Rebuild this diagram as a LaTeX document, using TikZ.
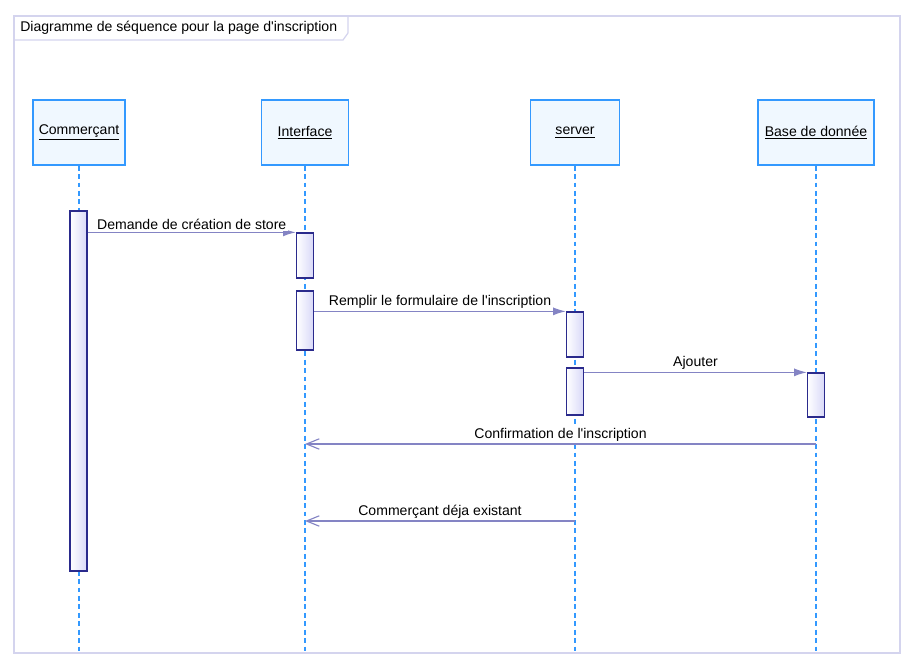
\documentclass[tikz,border=0pt]{standalone}
\usepackage{fontspec}
\setmainfont{Liberation Sans}
\usetikzlibrary{arrows.meta}

\definecolor{lifeblue}{HTML}{3399FF}
\definecolor{headfill}{HTML}{F0F8FF}
\definecolor{actline}{HTML}{2A2A8C}
\definecolor{actfill}{HTML}{D8D8F8}
\definecolor{msgcol}{HTML}{8484C4}
\definecolor{framecol}{HTML}{D4D4EE}

\tikzset{
  head/.style={draw=lifeblue, fill=headfill, line width=0.9pt, minimum height=1.625cm, font=\fontsize{10}{12}\selectfont},
  lifeline/.style={draw=lifeblue, line width=1pt, dash pattern=on 3.5pt off 2.5pt},
  activation/.style={draw=actline, line width=0.9pt, left color=white, right color=actfill, minimum width=0.425cm, inner sep=0pt},
  callmsg/.style={draw=msgcol, line width=0.8pt, -{Latex[length=3.2mm,width=2mm]}},
  backmsg/.style={draw=msgcol, line width=0.8pt, -{Straight Barb[length=3.2mm,width=2.6mm]}},
  msglabel/.style={font=\fontsize{10}{12}\selectfont, above, inner sep=1pt, outer sep=1pt, fill=white}
}

\begin{document}
\begin{tikzpicture}[x=0.025cm, y=-0.025cm]
  \useasboundingbox (0,0) rectangle (913,668);

  % cadre
  \draw[framecol, line width=0.9pt] (14,16) rectangle (900,653);
  \draw[framecol, line width=0.9pt] (14,40) -- (343,40) -- (348,33) -- (348,16);
  \node[anchor=west, font=\fontsize{10}{12}\selectfont, inner sep=0pt] (titre) at (20,28) {Diagramme de séquence pour la page d\textquotesingle inscription};

  % objets
  \node[head, minimum width=2.3cm] (commercant) at (79,132.5) {\underline{Commerçant}};
  \node[head, minimum width=2.175cm] (interface) at (305,132.5) {\underline{Interface}};
  \node[head, minimum width=2.225cm] (server) at (575,132.5) {\underline{server}};
  \node[head, minimum width=2.9cm] (base) at (816,132.5) {\underline{Base de donnée}};

  \foreach \obj in {commercant, interface, server, base}
    \draw[lifeline] (\obj.south) -- (\obj.south |- 0,653);

  % activations
  \node[activation, minimum height=9cm] (actC) at (78.5,391) {};
  \node[activation, minimum height=1.125cm] (actI1) at (305,255.5) {};
  \node[activation, minimum height=1.475cm] (actI2) at (305,320.5) {};
  \node[activation, minimum height=1.125cm] (actS1) at (575,334.5) {};
  \node[activation, minimum height=1.175cm] (actS2) at (575,391.5) {};
  \node[activation, minimum height=1.1cm] (actB) at (816,395) {};

  % messages
  \draw[callmsg] (actC.east |- actI1.north) -- (actI1.north west)
    node[msglabel, midway] {Demande de création de store};
  \draw[callmsg] (actI2.east |- actS1.north) -- (actS1.north west)
    node[msglabel, midway] {Remplir le formulaire de l\textquotesingle inscription};
  \draw[callmsg] (actS2.east |- actB.north) -- (actB.north west)
    node[msglabel, midway] {Ajouter};

  \coordinate (confB) at (816,444);
  \coordinate (confI) at (305,444);
  \draw[backmsg] (confB) -- (confI)
    node[msglabel, midway] {Confirmation de l\textquotesingle inscription};

  \coordinate (existS) at (575,521);
  \coordinate (existI) at (305,521);
  \draw[backmsg] (existS) -- (existI)
    node[msglabel, midway] {Commerçant déja existant};
\end{tikzpicture}
\end{document}
